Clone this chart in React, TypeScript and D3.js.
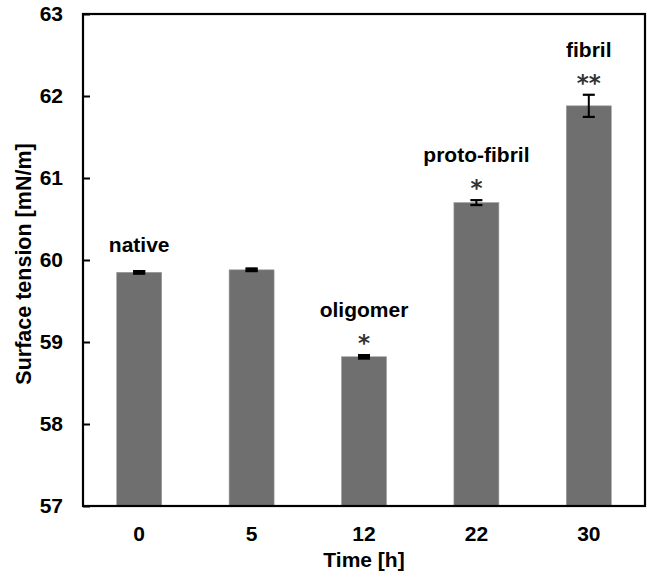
import React, { useEffect, useRef } from 'react';
import * as d3 from 'd3';

const times = ['0', '5', '12', '22', '30'];
const tension = [59.85, 59.88, 58.82, 60.7, 61.88];
const errors = [0.015, 0.015, 0.02, 0.03, 0.135];
const stageLabels = ['native', '', 'oligomer', 'proto-fibril', 'fibril'];
const stars = ['', '', '*', '*', '**'];
const yTicks = [57, 58, 59, 60, 61, 62, 63];

const App: React.FC = () => {
  const ref = useRef<SVGSVGElement>(null);

  useEffect(() => {
    const svg = d3.select(ref.current);
    svg.selectAll('*').remove();

    const margin = { top: 14, right: 8, bottom: 72, left: 83 };
    const W = 653, H = 578;
    const width = W - margin.left - margin.right;
    const height = H - margin.top - margin.bottom;
    const font = 'Arial, "Liberation Sans", sans-serif';
    const fs = 21;

    const g = svg.append('g').attr('transform', `translate(${margin.left},${margin.top})`);

    const x = d3.scaleBand().domain(times).range([0, width]).paddingInner(0.6).paddingOuter(0.3);
    const y = d3.scaleLinear().domain([57, 63]).range([height, 0]);

    // bars
    g.selectAll('rect.bar')
      .data(tension)
      .enter()
      .append('rect')
      .attr('class', 'bar')
      .attr('x', (_, i) => x(times[i]) as number)
      .attr('y', d => y(d))
      .attr('width', x.bandwidth())
      .attr('height', d => height - y(d))
      .attr('fill', '#6f6f6f')
      .attr('stroke', '#9a9a9a')
      .attr('stroke-width', 0.6);

    // error bars + annotations
    const cap = 6;
    tension.forEach((v, i) => {
      const cx = (x(times[i]) as number) + x.bandwidth() / 2;
      const e = errors[i];
      g.append('line')
        .attr('x1', cx).attr('x2', cx)
        .attr('y1', y(v + e)).attr('y2', y(v - e))
        .attr('stroke', '#000').attr('stroke-width', 2);
      [v + e, v - e].forEach(t => {
        g.append('line')
          .attr('x1', cx - cap).attr('x2', cx + cap)
          .attr('y1', y(t)).attr('y2', y(t))
          .attr('stroke', '#000').attr('stroke-width', 2.2);
      });
      if (e < 0.025) {
        g.append('rect')
          .attr('x', cx - cap).attr('width', cap * 2)
          .attr('y', y(v + e) - 1).attr('height', y(v - e) - y(v + e) + 2)
          .attr('fill', '#000');
      }

      const top = y(v + e);
      if (stars[i]) {
        g.append('text')
          .attr('x', cx).attr('y', top - 4)
          .attr('text-anchor', 'middle')
          .attr('font-family', '"DejaVu Sans", sans-serif').attr('font-size', 23)
          .attr('font-weight', 'bold')
          .attr('fill', '#333')
          .text(stars[i]);
      }
      if (stageLabels[i]) {
        g.append('text')
          .attr('x', cx).attr('y', top - (stars[i] ? 38 : 19))
          .attr('text-anchor', 'middle')
          .attr('font-family', font).attr('font-size', fs).attr('font-weight', 'bold')
          .attr('fill', '#000')
          .text(stageLabels[i]);
      }
    });

    // frame
    g.append('rect')
      .attr('x', 0).attr('y', 0).attr('width', width).attr('height', height)
      .attr('fill', 'none').attr('stroke', '#000').attr('stroke-width', 2.2);

    // y axis
    const yAxis = g.append('g').call(
      d3.axisLeft(y).tickValues(yTicks).tickSize(-7).tickPadding(20).tickFormat(d3.format('d'))
    );
    yAxis.select('.domain').remove();
    yAxis.selectAll('line').attr('stroke', '#000').attr('stroke-width', 2);
    yAxis.selectAll('text')
      .attr('font-family', font).attr('font-size', fs).attr('font-weight', 'bold').attr('fill', '#000');

    // x axis
    const xAxis = g.append('g').attr('transform', `translate(0,${height})`)
      .call(d3.axisBottom(x).tickSize(0).tickPadding(20));
    xAxis.select('.domain').remove();
    xAxis.selectAll('text')
      .attr('font-family', font).attr('font-size', fs).attr('font-weight', 'bold').attr('fill', '#000');

    svg.append('text')
      .attr('x', margin.left + width / 2).attr('y', 567)
      .attr('text-anchor', 'middle')
      .attr('font-family', font).attr('font-size', fs).attr('font-weight', 'bold')
      .text('Time [h]');

    svg.append('text')
      .attr('transform', `translate(31,${margin.top + height / 2 + 4}) rotate(-90)`)
      .attr('text-anchor', 'middle')
      .attr('font-family', font).attr('font-size', 21.5).attr('font-weight', 'bold')
      .text('Surface tension [mN/m]');
  }, []);

  return (
    <svg
      ref={ref}
      width={653}
      height={578}
      style={{ position: 'absolute', left: 0, top: 0, background: '#fff' }}
    />
  );
};

export default App;
